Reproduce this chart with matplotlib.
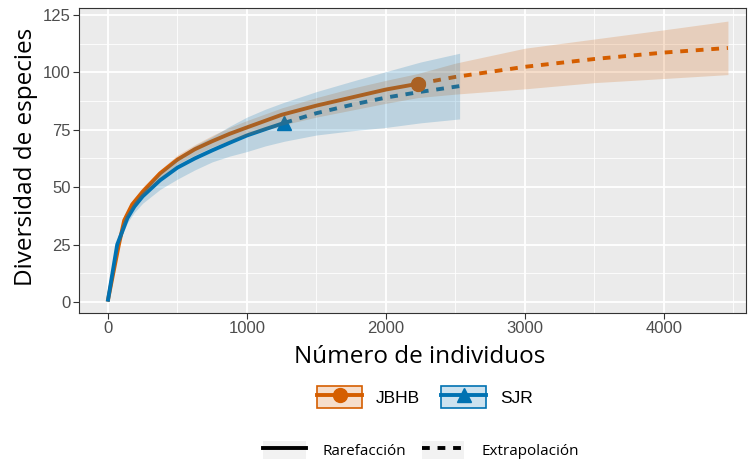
import matplotlib
matplotlib.use("Agg")
import matplotlib.pyplot as plt
from matplotlib.lines import Line2D
from matplotlib.patches import Patch
import numpy as np

# Curvas de rarefaccion/extrapolacion (iNEXT) por sitio
sitios = ["JBHB", "SJR"]
colores = ["#D55E00", "#0072B2"]
marcadores = ["o", "^"]

# JBHB
m_jbhb = [1, 79, 117, 175, 250, 375, 500, 625, 750, 875, 1000, 1250, 1500,
          1750, 2000, 2230, 2500, 3000, 3500, 4000, 4460]
s_jbhb = [1, 25, 35.5, 42.5, 48, 56, 62, 66.5, 70, 73.2, 76, 81.5, 85.5,
          89, 92.5, 95, 98, 102.4, 105.8, 108.6, 110.6]
inf_jbhb = [1, 24, 34.5, 41, 46.5, 54, 60, 64, 67.5, 70.3, 72.5, 77, 80.5,
            83.5, 86.5, 89, 90.5, 92.8, 95.5, 97.3, 99]
sup_jbhb = [1, 25.5, 36.5, 44, 50, 57.5, 64, 68.5, 72.5, 76, 79, 84.5, 89,
            93, 96.5, 99.5, 104, 110.5, 114.5, 118.5, 122.3]
obs_jbhb = 2230

# SJR
m_sjr = [1, 67, 140, 190, 250, 375, 500, 625, 750, 875, 1000, 1135, 1270,
         1500, 1750, 2000, 2250, 2530]
s_sjr = [1, 25, 36.5, 41.5, 46, 53, 58.5, 62.5, 66, 69.3, 72.5, 75.3, 78,
         82.2, 85.8, 89, 91.5, 94]
inf_sjr = [1, 24, 34.5, 39, 43, 49, 53.5, 57.5, 61, 63.5, 65.5, 68, 70,
           72.7, 74.5, 76, 78, 79.7]
sup_sjr = [1, 26, 38, 44, 48.5, 56.5, 63, 68, 72, 76.5, 80.5, 84, 87,
           91.6, 96, 100.3, 104.5, 108.3]
obs_sjr = 1270

datos = [
    (m_jbhb, s_jbhb, inf_jbhb, sup_jbhb, obs_jbhb),
    (m_sjr, s_sjr, inf_sjr, sup_sjr, obs_sjr),
]

xticks = [0, 1000, 2000, 3000, 4000]
yticks = [0, 25, 50, 75, 100, 125]

fig = plt.figure(figsize=(7.49, 4.59), dpi=100)
ax = fig.add_axes([79 / 749, 1 - 313 / 459, 667 / 749, 305 / 459])
ax.set_facecolor("#EBEBEB")

for (m, s, inf, sup, obs), col, mk in zip(datos, colores, marcadores):
    m = np.array(m); s = np.array(s)
    rar = m <= obs
    ext = m >= obs
    ax.plot(m[rar], s[rar], color=col, lw=2.8, solid_joinstyle="round", zorder=3)
    ax.plot(m[ext], s[ext], color=col, lw=2.8, linestyle=(0, (2, 2)), zorder=3)
    ax.plot([obs], [s[m == obs][0]], marker=mk, color=col, ms=10, zorder=4,
            linestyle="none")
    # las bandas van encima de las lineas, como en ggplot
    ax.fill_between(m, inf, sup, color=col, alpha=0.2, lw=0, zorder=5)

ax.set_xlim(-208, 4590)
ax.set_ylim(-4.8, 128)
ax.set_xticks(xticks)
ax.set_yticks(yticks)
ax.set_xticks([500, 1500, 2500, 3500, 4500], minor=True)
ax.set_yticks([12.5, 37.5, 62.5, 87.5, 112.5], minor=True)
ax.grid(which="major", color="white", lw=1.3, zorder=0)
ax.grid(which="minor", color="white", lw=0.6, zorder=0)
ax.set_axisbelow(True)
ax.tick_params(which="minor", length=0)
ax.tick_params(which="major", length=4, width=0.8, color="#333333",
               labelcolor="#4D4D4D", labelsize=12, pad=2)
for lab in ax.get_xticklabels() + ax.get_yticklabels():
    lab.set_family("Liberation Sans")
for sp in ax.spines.values():
    sp.set_color("#333333")
    sp.set_linewidth(0.8)

fig.text(26 / 749, 1 - 157 / 459, "Diversidad de especies", rotation=90,
         ha="center", va="center", fontsize=17.5, family="Open Sans")
fig.text(420 / 749, 1 - 357 / 459, "Número de individuos",
         ha="center", va="center", fontsize=17.5, family="Open Sans")

# leyenda de sitios
h_sitios = []
for col, mk in zip(colores, marcadores):
    h_sitios.append((Patch(facecolor=col, alpha=0.2, edgecolor="none"),
                     Patch(facecolor="none", edgecolor=col, lw=1.2),
                     Line2D([], [], color=col, lw=2.8, marker=mk, ms=10)))
leg1 = fig.legend(h_sitios, sitios, loc="center",
                  bbox_to_anchor=(425 / 749, 1 - 397 / 459), ncol=2,
                  frameon=False, handlelength=2.6, handleheight=1.5,
                  columnspacing=1.2, handletextpad=0.8,
                  prop={"family": "Liberation Sans", "size": 12.5})

# leyenda de metodo
h_met = [(Patch(facecolor="#F2F2F2", edgecolor="none"),
          Line2D([], [], color="black", lw=2.8)),
         (Patch(facecolor="#F2F2F2", edgecolor="none"),
          Line2D([], [], color="black", lw=2.8, linestyle=(0, (2, 2))))]
leg2 = fig.legend(h_met, ["Rarefacción", "Extrapolación"], loc="center",
                  bbox_to_anchor=(421 / 749, 1 - 450 / 459), ncol=2,
                  frameon=False, handlelength=2.8, handleheight=1.4,
                  columnspacing=1.0, handletextpad=1.1,
                  prop={"family": "Open Sans", "size": 11})

fig.savefig("out.png", dpi=100)
